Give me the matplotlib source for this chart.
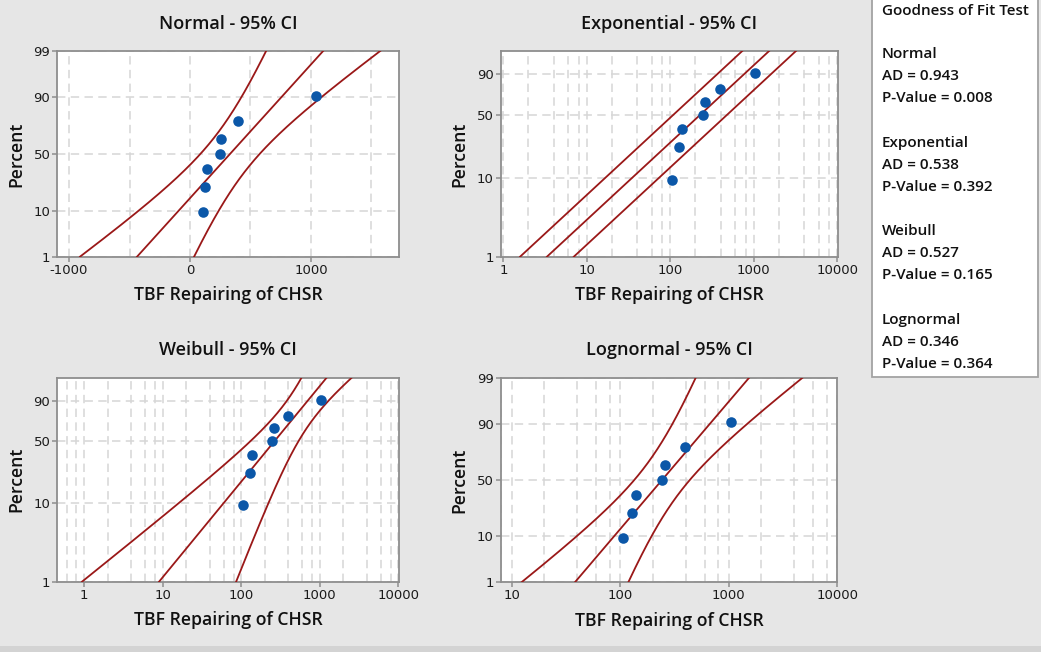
import math
import numpy as np
import matplotlib
matplotlib.use("Agg")
import matplotlib.pyplot as plt
from matplotlib.patches import Rectangle
from matplotlib.ticker import FixedLocator, NullLocator, FuncFormatter, NullFormatter

# ---------------------------------------------------------------- data
tbf_hours = [106, 128, 139, 244, 258, 399, 1045]       # TBF repairing of CHSR
panel_titles = ["Normal - 95% CI", "Exponential - 95% CI",
                "Weibull - 95% CI", "Lognormal - 95% CI"]
x_label = "TBF Repairing of CHSR"
y_label = "Percent"
gof_names = ["Normal", "Exponential", "Weibull", "Lognormal"]
gof_ad = ["0.943", "0.538", "0.527", "0.346"]
gof_p = ["0.008", "0.392", "0.165", "0.364"]
probit_ticks = [1, 10, 50, 90, 99]
sev_ticks = [1, 10, 50, 90]
normal_x_ticks = [-1000, 0, 1000]
log_x_ticks = [1, 10, 100, 1000, 10000]
log_x_ticks_ln = [10, 100, 1000, 10000]

# ---------------------------------------------------------------- style
W, H = 1041, 652
BG = "#e6e6e6"
LINE = "#9a1818"
DOT = "#0b57a8"
GRID = "#d6d6d6"
SPINE = "#8e8e8e"
plt.rcParams["axes.unicode_minus"] = False
TFONT = ["Open Sans", "DejaVu Sans"]
Z95 = 1.959964


# ---------------------------------------------------------------- helpers
def _ndtr(z):
    return 0.5 * (1.0 + math.erf(z / math.sqrt(2.0)))


def _ndtri(p):
    # Acklam's rational approximation followed by one Newton step
    a = [-3.969683028665376e+01, 2.209460984245205e+02, -2.759285104469687e+02,
         1.383577518672690e+02, -3.066479806614716e+01, 2.506628277459239e+00]
    b = [-5.447609879822406e+01, 1.615858368580409e+02, -1.556989798598866e+02,
         6.680131188771972e+01, -1.328068155288572e+01]
    c = [-7.784894002430293e-03, -3.223964580411365e-01, -2.400758277161838e+00,
         -2.549732539343734e+00, 4.374664141464968e+00, 2.938163982698783e+00]
    d = [7.784695709041462e-03, 3.224671290700398e-01, 2.445134137142996e+00,
         3.754408661907416e+00]
    p = min(max(p, 1e-12), 1 - 1e-12)
    if p < 0.02425:
        q = math.sqrt(-2 * math.log(p))
        x = (((((c[0]*q+c[1])*q+c[2])*q+c[3])*q+c[4])*q+c[5]) / ((((d[0]*q+d[1])*q+d[2])*q+d[3])*q+1)
    elif p > 1 - 0.02425:
        q = math.sqrt(-2 * math.log(1 - p))
        x = -(((((c[0]*q+c[1])*q+c[2])*q+c[3])*q+c[4])*q+c[5]) / ((((d[0]*q+d[1])*q+d[2])*q+d[3])*q+1)
    else:
        q = p - 0.5
        r = q * q
        x = (((((a[0]*r+a[1])*r+a[2])*r+a[3])*r+a[4])*r+a[5])*q / (((((b[0]*r+b[1])*r+b[2])*r+b[3])*r+b[4])*r+1)
    e = _ndtr(x) - p
    x = x - e * math.sqrt(2 * math.pi) * math.exp(x * x / 2)
    return x


ndtr = np.vectorize(_ndtr, otypes=[float])
ndtri = np.vectorize(_ndtri, otypes=[float])


def probit_fwd(pct):
    return ndtri(np.clip(np.asarray(pct, float) / 100.0, 1e-9, 1 - 1e-9))


def probit_inv(z):
    return 100.0 * ndtr(np.asarray(z, float))


def sev_fwd(pct):
    p = np.clip(np.asarray(pct, float) / 100.0, 1e-9, 1 - 1e-9)
    return np.log(-np.log1p(-p))


def sev_inv(w):
    return 100.0 * (1.0 - np.exp(-np.exp(np.asarray(w, float))))


x = np.array(tbf_hours, float)
n = len(x)
plot_pos = 100.0 * (np.arange(1, n + 1) - 0.3) / (n + 0.4)   # median ranks
p_grid = 100.0 * ndtr(np.linspace(_ndtri(0.01), _ndtri(0.99), 400))
z_grid = probit_fwd(p_grid)
w_grid = sev_fwd(p_grid)

# Normal fit with percentile confidence bounds
mu, sd = x.mean(), x.std(ddof=1)
n_mid = mu + z_grid * sd
n_se = sd * np.sqrt((1 + z_grid ** 2 / 2) / n)
normal_fit = (n_mid, n_mid - Z95 * n_se, n_mid + Z95 * n_se)

# Lognormal fit
lx = np.log(x)
lmu, lsd = lx.mean(), lx.std(ddof=1)
l_mid = lmu + z_grid * lsd
l_se = lsd * np.sqrt((1 + z_grid ** 2 / 2) / n)
lognormal_fit = (np.exp(l_mid), np.exp(l_mid - Z95 * l_se), np.exp(l_mid + Z95 * l_se))

# Exponential fit (mean parameter)
theta = x.mean()
e_mid = theta * np.exp(w_grid)
e_fac = np.exp(Z95 / np.sqrt(n))
exponential_fit = (e_mid, e_mid / e_fac, e_mid * e_fac)


# Weibull maximum likelihood fit
def _shape_eq(beta):
    xb = x ** beta
    return np.sum(xb * lx) / np.sum(xb) - 1.0 / beta - lx.mean()


lo, hi = 0.05, 20.0
for _ in range(200):
    mid = 0.5 * (lo + hi)
    if _shape_eq(mid) > 0:
        hi = mid
    else:
        lo = mid
beta = 0.5 * (lo + hi)
eta = np.mean(x ** beta) ** (1.0 / beta)
u_hat, s_hat = np.log(eta), 1.0 / beta


def _sev_ll(u, s):
    zz = (lx - u) / s
    return np.sum(-np.log(s) + zz - np.exp(zz))


h = 1e-4
f0 = _sev_ll(u_hat, s_hat)
huu = (_sev_ll(u_hat + h, s_hat) - 2 * f0 + _sev_ll(u_hat - h, s_hat)) / h ** 2
hss = (_sev_ll(u_hat, s_hat + h) - 2 * f0 + _sev_ll(u_hat, s_hat - h)) / h ** 2
hus = (_sev_ll(u_hat + h, s_hat + h) - _sev_ll(u_hat + h, s_hat - h)
       - _sev_ll(u_hat - h, s_hat + h) + _sev_ll(u_hat - h, s_hat - h)) / (4 * h ** 2)
cov = np.linalg.inv(-np.array([[huu, hus], [hus, hss]]))
wb_mid = u_hat + s_hat * w_grid
wb_se = np.sqrt(cov[0, 0] + w_grid ** 2 * cov[1, 1] + 2 * w_grid * cov[0, 1])
weibull_fit = (np.exp(wb_mid), np.exp(wb_mid - Z95 * wb_se), np.exp(wb_mid + Z95 * wb_se))

# ---------------------------------------------------------------- figure
fig = plt.figure(figsize=(W / 100, H / 100), dpi=100, facecolor=BG)
fig.add_artist(Rectangle((0, 0), 1, 6 / H, transform=fig.transFigure,
                         facecolor="#d3d3d3", edgecolor="none"))


def px_axes(left, top, right, bottom):
    return fig.add_axes([left / W, 1 - bottom / H, (right - left) / W, (bottom - top) / H])


axes = [px_axes(57.3, 51, 399.3, 256.7),
        px_axes(500.7, 51, 838.0, 256.7),
        px_axes(57.3, 377.7, 399.3, 581.7),
        px_axes(500.7, 377.7, 837.3, 582.3)]

fits = [normal_fit, exponential_fit, weibull_fit, lognormal_fit]
xlims = [(-1097, 1730), (0.93, 10200), (0.456, 10300), (7.92, 10000)]

fmt = FuncFormatter(lambda v, _: f"{v:g}")

for i, ax in enumerate(axes):
    ax.set_facecolor("white")
    for sp in ax.spines.values():
        sp.set_color(SPINE)
        sp.set_linewidth(1.3)

    if i in (0, 3):
        ax.set_yscale("function", functions=(probit_fwd, probit_inv))
        ax.yaxis.set_major_locator(FixedLocator(probit_ticks))
    else:
        ax.set_yscale("function", functions=(sev_fwd, sev_inv))
        ax.yaxis.set_major_locator(FixedLocator(sev_ticks))
    ax.yaxis.set_minor_locator(NullLocator())
    ax.yaxis.set_major_formatter(fmt)
    ax.set_ylim(1, 99)

    if i == 0:
        ax.xaxis.set_major_locator(FixedLocator(normal_x_ticks))
        ax.xaxis.set_minor_locator(FixedLocator(np.arange(-1000, 1501, 500)))
    else:
        ax.set_xscale("log")
        ticks = log_x_ticks_ln if i == 3 else log_x_ticks
        ax.xaxis.set_major_locator(FixedLocator(ticks))
        minors = [m * 10.0 ** k for k in range(-1, 5) for m in (2, 4, 6, 8)]
        ax.xaxis.set_minor_locator(FixedLocator(minors))
    ax.xaxis.set_major_formatter(fmt)
    ax.xaxis.set_minor_formatter(NullFormatter())
    ax.set_xlim(*xlims[i])

    ax.grid(True, axis="x", which="both", color=GRID, linestyle=(0, (5.5, 3.5)), linewidth=1.1)
    ax.grid(True, axis="y", which="major", color=GRID, linestyle=(0, (5.5, 3.5)), linewidth=1.1)
    ax.set_axisbelow(True)
    ax.tick_params(which="major", direction="out", length=3.5, width=1.1, color=SPINE,
                   labelsize=9.5, labelcolor="#1a1a1a", pad=1.5)
    ax.tick_params(which="minor", length=0)

    mid, lower, upper = fits[i]
    for curve in (lower, mid, upper):
        ax.plot(curve, p_grid, color=LINE, linewidth=1.3, zorder=3)
    ax.plot(x, plot_pos, "o", color=DOT, markersize=7.6, markeredgewidth=0, zorder=4)

    ax.set_xlabel(x_label, fontsize=12.7, fontweight="semibold", family=TFONT,
                  color="#111111", labelpad=7)
    ax.set_ylabel(y_label, fontsize=12.7, fontweight="semibold", family=TFONT,
                  color="#111111", labelpad=6)
    ax.set_title(panel_titles[i], fontsize=13, fontweight="semibold", family=TFONT,
                 color="#111111", pad=16)

# Goodness-of-fit summary box
fig.add_artist(Rectangle((872.3 / W, 1 - 376.7 / H), 166 / W, 380 / H,
                         transform=fig.transFigure, facecolor="white",
                         edgecolor="#a3a3a3", linewidth=1.3))
fig.text(882 / W, 1 - 11 / H, "Goodness of Fit Test", fontsize=11,
         fontweight="semibold", family=TFONT, va="center", ha="left", color="#111111")
y0 = 54
for k, name in enumerate(gof_names):
    yy = y0 + k * 88.7
    for j, line in enumerate([name, f"AD = {gof_ad[k]}", f"P-Value = {gof_p[k]}"]):
        fig.text(882 / W, 1 - (yy + j * 22) / H, line, fontsize=11,
                 fontweight="semibold", family=TFONT, va="center", ha="left",
                 color="#111111")

fig.savefig("out.png", dpi=100, facecolor=BG)
